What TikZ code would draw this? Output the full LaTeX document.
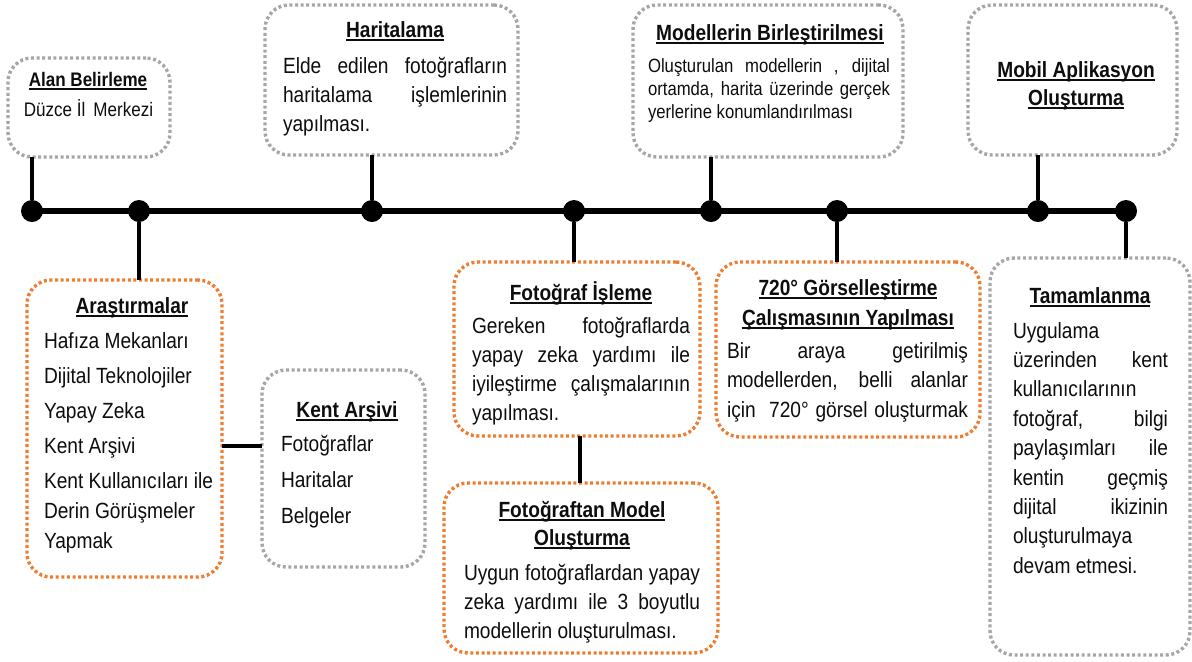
\documentclass[tikz,border=0pt]{standalone}
\usepackage{fontspec}
\setmainfont{Liberation Sans}[FakeStretch=0.87]
\usetikzlibrary{calc}
\definecolor{orng}{HTML}{ED7D31}
\definecolor{gry}{HTML}{A6A6A6}
\definecolor{ink}{HTML}{0D0D0D}
\newcommand{\jl}[1]{\makebox[\hsize][s]{\spaceskip=0pt\xspaceskip=0pt #1}}
\newcommand{\ttl}[1]{\setbox0\hbox{\bfseries #1}\rlap{\rule[-1.8pt]{\wd0}{0.7pt}}\box0}
\tikzset{
  every node/.style={inner sep=0pt, outer sep=0pt, text=ink},
  framebox/.style={draw, rounded corners=12pt, line width=1.7pt, dash pattern=on 1.5pt off 1.3pt},
  gbox/.style={framebox, draw=gry},
  obox/.style={framebox, draw=orng},
  dot/.style={circle, fill=black, minimum size=11pt},
  conn/.style={line width=2pt},
  tline/.style={line width=2.6pt},
  ttlnode/.style={anchor=base, align=center, font=\fontsize{11}{14.5}\selectfont},
  body/.style={anchor=base west, align=left, font=\fontsize{11}{14.75}\selectfont,
    execute at begin node={\spaceskip=0pt\xspaceskip=0pt\relax}},
}
\begin{document}
\begin{tikzpicture}[x=0.5pt, y=-0.5pt]
\useasboundingbox (0,0) rectangle (1192,661);

% timeline dots
\node[dot] (d1) at (32,211) {};
\node[dot] (d2) at (139,211) {};
\node[dot] (d3) at (372,211) {};
\node[dot] (d4) at (574,211) {};
\node[dot] (d5) at (711,211) {};
\node[dot] (d6) at (837,211) {};
\node[dot] (d7) at (1038,211) {};
\node[dot] (d8) at (1126,211) {};
\draw[tline] (d1.center) -- (d8.center);

% frames
\node[gbox, minimum width=81pt, minimum height=49.5pt] (alan) at (89,107.5) {};
\node[gbox, minimum width=126.5pt, minimum height=75pt] (harita) at (391.5,80) {};
\node[gbox, minimum width=135pt, minimum height=76pt] (model) at (768,81) {};
\node[gbox, minimum width=104.5pt, minimum height=75pt] (mobil) at (1072.5,80) {};
\node[obox, minimum width=97.5pt, minimum height=148.5pt] (arast) at (124.5,428.5) {};
\node[gbox, minimum width=81.5pt, minimum height=98.5pt] (kent) at (343.5,468.5) {};
\node[obox, minimum width=123pt, minimum height=87pt] (foto) at (577,349) {};
\node[obox, minimum width=137pt, minimum height=85pt] (ftm) at (581,568) {};
\node[obox, minimum width=132pt, minimum height=87.5pt] (g720) at (848,349.5) {};
\node[gbox, minimum width=100pt, minimum height=198.5pt] (tamam) at (1090,456.5) {};

% connectors
\draw[conn] (d1) -- (d1 |- alan.south);
\draw[conn] (d2) -- (d2 |- arast.north);
\draw[conn] (d3) -- (d3 |- harita.south);
\draw[conn] (d4) -- (d4 |- foto.north);
\draw[conn] (d5) -- (d5 |- model.south);
\draw[conn] (d6) -- (d6 |- g720.north);
\draw[conn] (d7) -- (d7 |- mobil.south);
\draw[conn] (d8) -- (d8 |- tamam.north);
\draw[conn] ($(arast.east)+(0,17.5)$) coordinate (ak) -- (ak -| kent.west);
\draw[conn] ($(foto.south)+(3,0)$) coordinate (fm) -- (fm |- ftm.north);

% Alan Belirleme
\node[ttlnode, font=\fontsize{9.8}{12}\selectfont] (alanT) at (88,86) {\ttl{Alan Belirleme}};
\node[ttlnode, font=\fontsize{9.8}{12}\selectfont] (alanB) at (88.5,116) {Düzce İl\ \,Merkezi};

% Haritalama
\node[ttlnode] (haritaT) at (395,37) {\ttl{Haritalama}};
\node[body, text width=112pt, font=\fontsize{11}{14.5}\selectfont] (haritaB) at (283,73) {\jl{Elde edilen fotoğrafların}\\ \jl{haritalama işlemlerinin}\\ yapılması.};

% Modellerin Birlestirilmesi
\node[ttlnode] (modelT) at (770,40) {\ttl{Modellerin Birleştirilmesi}};
\node[body, text width=121pt, font=\fontsize{9.6}{11.5}\selectfont] (modelB) at (648,72) {\jl{Oluşturulan modellerin , dijital}\\ \jl{ortamda, harita üzerinde gerçek}\\ yerlerine konumlandırılması};

% Mobil
\node[ttlnode, font=\fontsize{11}{14}\selectfont] (mobilT) at (1076,105) {\ttl{Mobil Aplikasyon}\\ \ttl{Oluşturma}};

% Arastirmalar
\node[ttlnode] (arastT) at (132,313) {\ttl{Araştırmalar}};
\node[body, text width=88pt, font=\fontsize{11}{15}\selectfont] (arastB) at (44,348) {Hafıza Mekanları\\[2.5pt] Dijital Teknolojiler\\[2.5pt] Yapay Zeka\\[2.5pt] Kent Arşivi\\[2.5pt] Kent Kullanıcıları ile\\ Derin Görüşmeler\\ Yapmak};

% Kent Arsivi
\node[ttlnode] (kentT) at (347,417) {\ttl{Kent Arşivi}};
\node[body, text width=66pt, font=\fontsize{11}{15}\selectfont] (kentB) at (281,451) {Fotoğraflar\\[3pt] Haritalar\\[3pt] Belgeler};

% Fotograf Isleme
\node[ttlnode] (fotoT) at (581,300) {\ttl{Fotoğraf İşleme}};
\node[body, text width=109pt, font=\fontsize{11}{14.5}\selectfont] (fotoB) at (472,333) {\jl{Gereken fotoğraflarda}\\ \jl{yapay zeka yardımı ile}\\ \jl{iyileştirme çalışmalarının}\\ yapılması.};

% Fotograftan Model Olusturma
\node[ttlnode, font=\fontsize{11}{14}\selectfont] (ftmT) at (582,545) {\ttl{Fotoğraftan Model}\\ \ttl{Oluşturma}};
\node[body, text width=118pt, font=\fontsize{11}{14.5}\selectfont] (ftmB) at (464,580) {\jl{Uygun fotoğraflardan yapay}\\ \jl{zeka yardımı ile 3 boyutlu}\\ modellerin oluşturulması.};

% 720
\node[ttlnode, font=\fontsize{11}{15}\selectfont] (g720T) at (848,325) {\ttl{720° Görselleştirme}\\ \ttl{Çalışmasının Yapılması}};
\node[body, text width=120.5pt, font=\fontsize{11}{14.75}\selectfont] (g720B) at (727,358) {\jl{Bir araya getirilmiş}\\ \jl{modellerden, belli alanlar}\\ \jl{için\ \ 720° görsel oluşturmak}};

% Tamamlanma
\node[ttlnode] (tamamT) at (1090,303) {\ttl{Tamamlanma}};
\node[body, text width=77.5pt, font=\fontsize{11}{14.7}\selectfont] (tamamB) at (1013,338) {Uygulama\\ \jl{üzerinden kent}\\ kullanıcılarının\\ \jl{fotoğraf, bilgi}\\ \jl{paylaşımları ile}\\ \jl{kentin geçmiş}\\ \jl{dijital ikizinin}\\ oluşturulmaya\\ devam etmesi.};
\end{tikzpicture}
\end{document}
